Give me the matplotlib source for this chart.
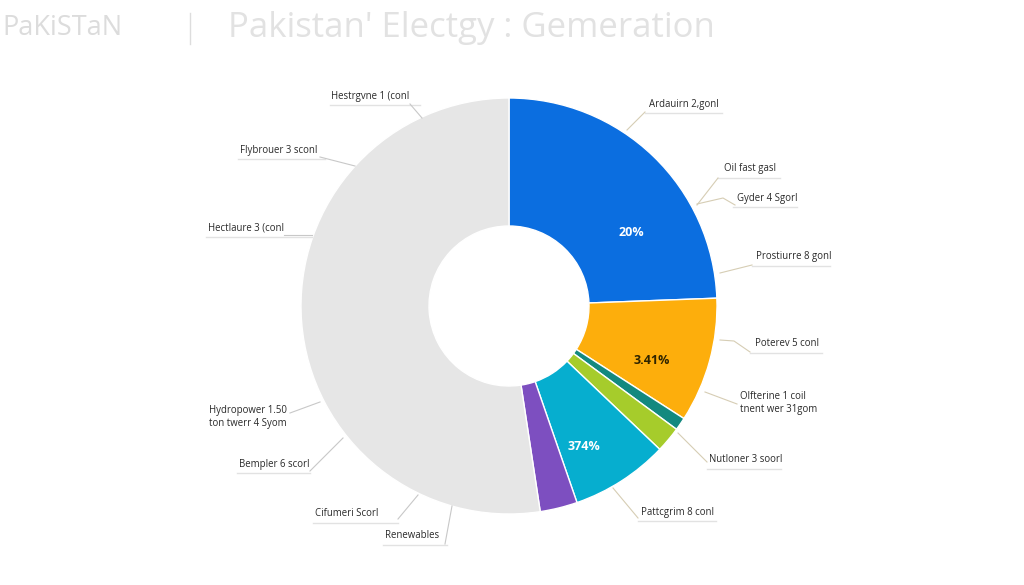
# Pakistan electricity generation donut chart
import matplotlib
matplotlib.use("Agg")
import matplotlib.pyplot as plt

plt.rcParams['font.family'] = ['Open Sans', 'DejaVu Sans']

W, H = 1024, 585

# share of each ring segment (clockwise from 12 o'clock), in percent
segments = ["Blue", "Orange", "Teal", "Green", "Cyan", "Purple", "Grey"]
shares = [24.4, 9.7, 1.0, 2.0, 7.6, 2.9, 52.4]
colors = ["#0b6ee0", "#fdae0c", "#13897f", "#a6cc2b", "#06aecf", "#7d4fc0", "#e6e6e6"]

# labels printed on the ring
pct_labels = ["20%", "3.41%", "374%"]

# callout texts around the ring
callouts_right = ["Ardauirn 2,gonl", "Oil fast gasl", "Gyder 4 Sgorl", "Prostiurre 8 gonl",
                  "Poterev 5 conl", "Olfterine 1 coil\ntnent wer 31gom",
                  "Nutloner 3 soorl", "Pattcgrim 8 conl"]
callouts_left = ["Hestrgvne 1 (conl", "Flybrouer 3 sconl", "Hectlaure 3 (conl",
                 "Hydropower 1.50\nton twerr 4 Syom", "Bempler 6 scorl",
                 "Cifumeri Scorl", "Renewables"]


def P(x, y):
    # image pixel coords -> axes coords
    return x, H - y


fig = plt.figure(figsize=(W / 100, H / 100), dpi=100)
ax = fig.add_axes([0, 0, 1, 1])

cx, cy = P(509, 306)
ax.pie(shares, colors=colors, startangle=90, counterclock=False,
       center=(cx, cy), radius=208,
       wedgeprops=dict(width=128, edgecolor="white", linewidth=1))
ax.set_xlim(0, W)
ax.set_ylim(0, H)
ax.set_aspect("equal")
ax.axis("off")

# percentages on the ring
pct_pos = [(631, 233, "white"), (652, 361, "#2e2400"), (584, 447, "white")]
for txt, (x, y, c) in zip(pct_labels, pct_pos):
    ax.text(*P(x, y), txt, color=c, fontsize=9, fontweight="bold",
            ha="center", va="center")

# (text x, text y, underline x0, x1, leader points) in image pixels
right_layout = [
    (649, 104, 645, 722, [(627, 130), (645, 112)]),
    (724, 169, 718, 780, [(697, 205), (718, 178)]),
    (737, 198, 733, 797, [(697, 204), (723, 198), (735, 205)]),
    (756, 257, 752, 830, [(720, 273), (752, 265)]),
    (755, 344, 750, 822, [(720, 340), (734, 341), (750, 352)]),
    (740, 398, 737, 810, [(705, 392), (737, 404)]),
    (709, 460, 707, 781, [(678, 433), (707, 462)]),
    (641, 512, 638, 716, [(613, 488), (638, 518)]),
]
left_layout = [
    (331, 96, 330, 420, [(410, 104), (422, 118)]),
    (240, 150, 238, 325, [(320, 157), (355, 166)]),
    (208, 228, 206, 312, [(284, 235), (312, 235)]),
    (209, 412, 207, 290, [(290, 413), (320, 402)]),
    (239, 464, 237, 310, [(310, 471), (343, 438)]),
    (315, 514, 313, 398, [(398, 519), (418, 495)]),
    (385, 536, 383, 447, [(445, 544), (452, 506)]),
]

for texts, layout, lc in [(callouts_right, right_layout, "#d6cdb4"),
                          (callouts_left, left_layout, "#c8c8c8")]:
    for txt, (tx, ty, u0, u1, pts) in zip(texts, layout):
        two_line = "\n" in txt
        ax.text(*P(tx, ty + (5 if two_line else 0)), txt, fontsize=6.9,
                color="#2a2a2a", ha="left", va="center", linespacing=1.2)
        uy = ty + (19 if two_line else 9)
        if not two_line:
            ax.plot([P(u0, uy)[0], P(u1, uy)[0]], [P(u0, uy)[1], P(u1, uy)[1]],
                    color="#e2e2e2", lw=1)
        xs = [P(*p)[0] for p in pts]
        ys = [P(*p)[1] for p in pts]
        ax.plot(xs, ys, color=lc, lw=0.8)

# faded header
ax.text(*P(2, 28), "PaKiSTaN", fontsize=19.5, color="#dcdcdc", ha="left", va="center")
ax.plot([P(190, 13)[0], P(190, 44)[0]], [P(190, 13)[1], P(190, 44)[1]],
        color="#dddddd", lw=1)
ax.text(*P(228, 28), "Pakistan' Electgy : Gemeration", fontsize=25,
        color="#e2e2e2", ha="left", va="center")

fig.savefig("out.png", dpi=100, facecolor="white")
